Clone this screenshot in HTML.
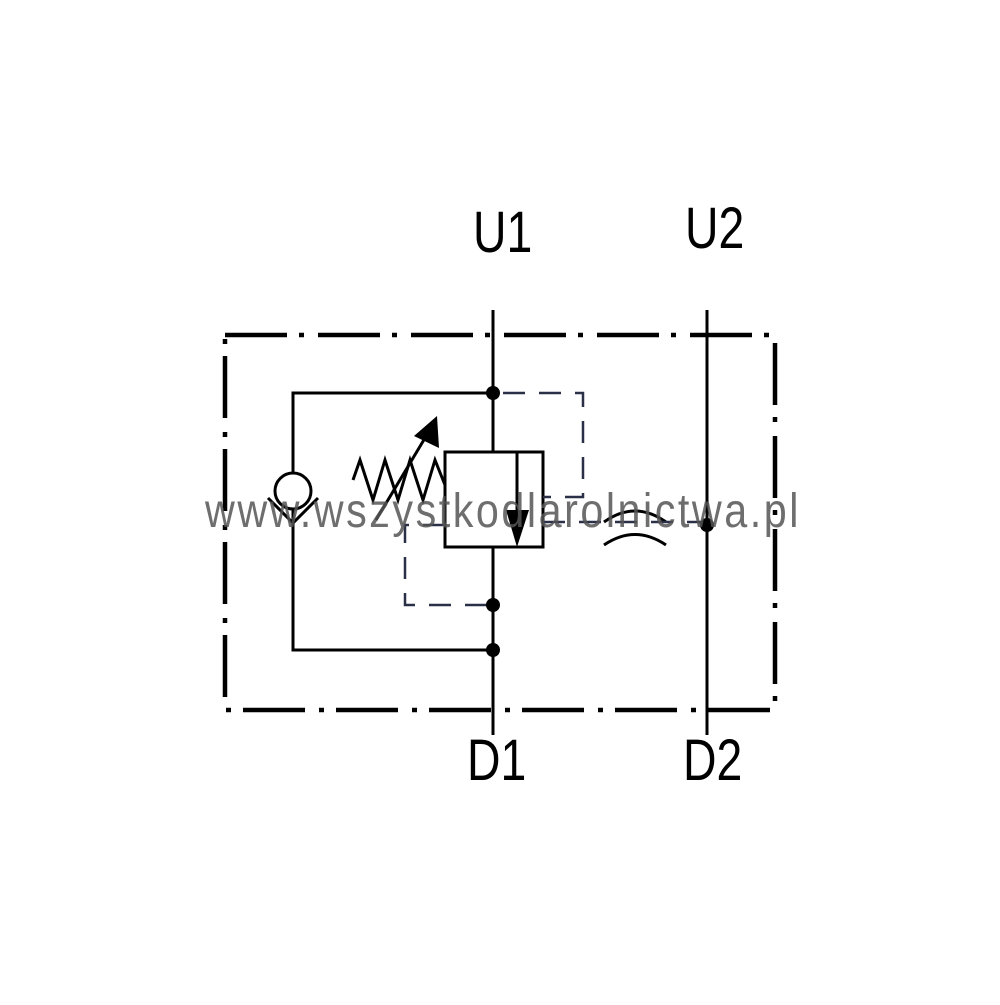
<!DOCTYPE html>
<html><head><style>html,body{margin:0;padding:0;background:#fff}</style></head><body>
<svg width="1000" height="1000" viewBox="0 0 1000 1000" xmlns="http://www.w3.org/2000/svg">
<rect width="1000" height="1000" fill="#fff"/>
<g fill="none" stroke="#000" stroke-width="4.5">
<path d="M225 335 H775 V710 H225 Z" stroke-dasharray="62 12 5 14"/>
</g>
<g fill="none" stroke="#000" stroke-width="3">
<line x1="493" y1="310" x2="493" y2="452"/>
<line x1="493" y1="547" x2="493" y2="735"/>
<line x1="707" y1="310" x2="707" y2="735"/>
<path d="M493 393 H293 V650 H493"/>
<rect x="445" y="452" width="98" height="95"/>
<line x1="517" y1="452" x2="517" y2="515"/>
<circle cx="293" cy="491" r="18" fill="#fff"/>
<path d="M268 498 L293 523 L318 498"/>
<path d="M353 480 L360 460 L373 500 L385 460 L398 500 L410 460 L423 500 L435 460 L445 485"/>
<line x1="376" y1="520" x2="425" y2="438"/>
<path d="M604 522 Q635 500 666 522"/>
<path d="M604 545 Q635 524 666 545"/>
</g>
<polygon points="437,416 439,448 414,436" fill="#000"/>
<polygon points="506,510 529,510 517,547" fill="#000"/>
<g fill="none" stroke="#2a3048" stroke-width="2.5" stroke-dasharray="22 14">
<path d="M503 393 H583 V497 H543"/>
<path d="M445 525 H405 V605 H493"/>
<path d="M543 522 H707"/>
</g>
<g fill="#000">
<circle cx="493" cy="393" r="7"/>
<circle cx="493" cy="605" r="7"/>
<circle cx="493" cy="650" r="7"/>
<circle cx="707" cy="525" r="7"/>
</g>
<g font-family="Liberation Sans, sans-serif" font-size="58" fill="#000">
<text transform="translate(473 252) scale(0.8 1)">U1</text>
<text transform="translate(685 248) scale(0.8 1)">U2</text>
<text transform="translate(467 780) scale(0.8 1)">D1</text>
<text transform="translate(683 780) scale(0.8 1)">D2</text>
</g>
<text transform="translate(205 527) scale(0.86 1)" font-family="Liberation Sans, sans-serif" font-size="48" fill="#555" fill-opacity="0.85" textLength="690">www.wszystkodlarolnictwa.pl</text>
</svg>
</body></html>
